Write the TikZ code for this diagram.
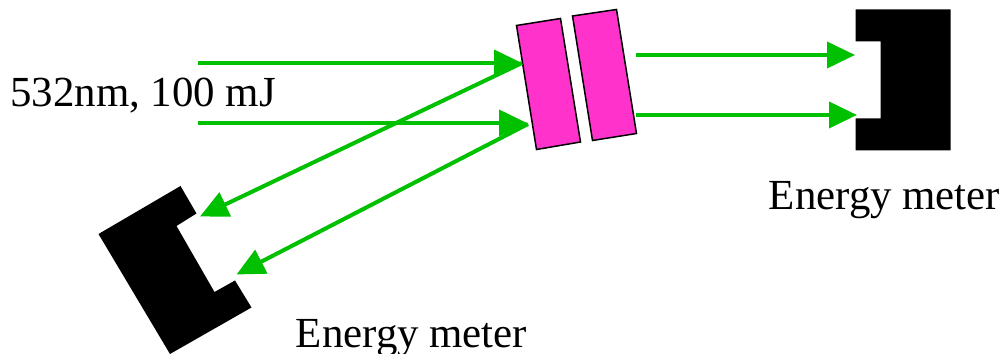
\documentclass[tikz,border=0pt]{standalone}
\usepackage{fontspec}
\setmainfont{Liberation Serif}
\usepackage{xcolor}
\usetikzlibrary{arrows.meta}
\definecolor{BeamGreen}{HTML}{00C000}
\definecolor{PlatePink}{HTML}{FF33CC}
\tikzset{
  beam/.style={BeamGreen,line width=.08cm,-{Triangle[length=.56cm,width=.52cm]}},
  plate/.style={draw=black,fill=PlatePink,line width=.03cm},
  meter/.style={fill=black},
  caption/.style={anchor=base west,inner sep=0pt,font=\fontsize{24.4}{28}\selectfont}
}

\begin{document}
\begin{tikzpicture}[x=1cm,y=1cm]
\path[use as bounding box] (0,0) rectangle (20.06,7.08);
\fill[white] (0,0) rectangle (20.06,7.08);
% beam ends
\coordinate (inA) at (3.96,5.82);
\coordinate (inB) at (3.96,4.62);
\coordinate (hitA) at (10.44,5.82);
\coordinate (hitB) at (10.54,4.62);
\coordinate (backA) at (10.44,5.82);
\coordinate (backB) at (10.56,4.60);
\coordinate (meterA) at (4.00,2.75);
\coordinate (meterB) at (4.73,1.59);
\coordinate (outA) at (12.72,5.98);
\coordinate (outB) at (12.72,4.78);
\coordinate (endA) at (17.10,5.98);
\coordinate (endB) at (17.14,4.78);
% plates
\draw[plate] (10.33,6.57) -- (11.21,6.71) -- (11.61,4.24) -- (10.73,4.09) -- cycle;
\draw[plate] (11.45,6.76) -- (12.33,6.89) -- (12.73,4.41) -- (11.85,4.27) -- cycle;
% meters
\fill[meter] (17.11,6.89) -- (19.01,6.89) -- (19.01,4.07) -- (17.11,4.07) -- (17.11,4.71)
  -- (17.61,4.71) -- (17.61,6.25) -- (17.11,6.25) -- cycle;
\fill[meter] (3.61,3.36) -- (3.93,2.81) -- (3.53,2.56) -- (4.29,1.24) -- (4.70,1.47)
  -- (5.03,0.93) -- (3.40,0) -- (1.97,2.40) -- cycle;
% beams
\draw[beam] (inA) -- (hitA);
\draw[beam] (inB) -- (hitB);
\draw[beam] (backA) -- (meterA);
\draw[beam] (backB) -- (meterB);
\draw[beam] (outA) -- (endA);
\draw[beam] (outB) -- (endB);
% labels
\node[caption] (pump) at (0.20,4.94) {532nm, 100 mJ};
\node[caption] (meterright) at (15.37,2.88) {Energy meter};
\node[caption] (meterleft) at (5.91,0.12) {Energy meter};
\end{tikzpicture}
\end{document}
